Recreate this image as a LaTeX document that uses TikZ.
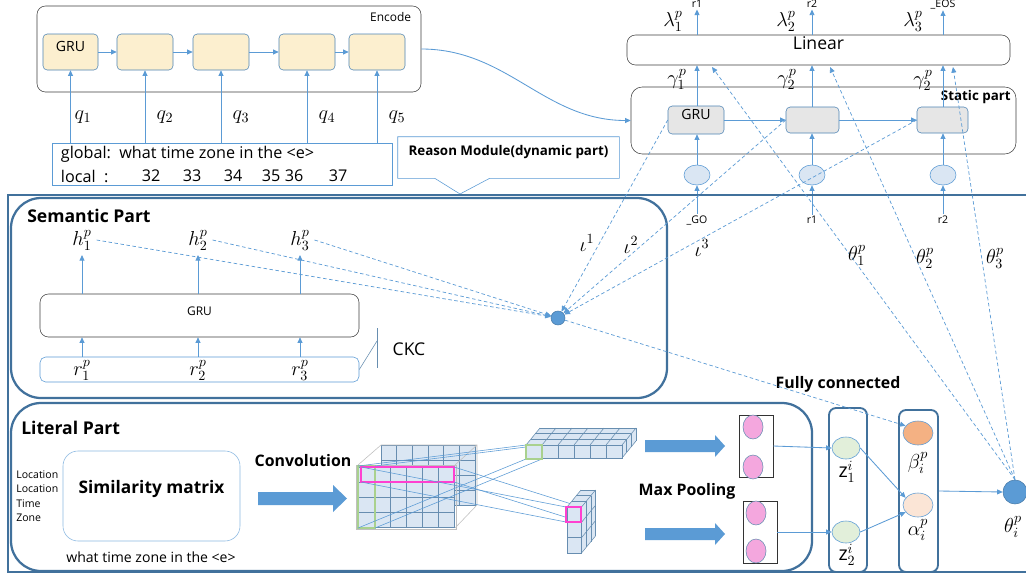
\documentclass[tikz,border=0pt]{standalone}
\usepackage{fontspec}
\setmainfont{Open Sans}
\usetikzlibrary{arrows.meta,positioning,shapes.geometric,fit,calc}
\definecolor{frameblue}{HTML}{41719C}
\definecolor{lineblue}{HTML}{5B9BD5}
\definecolor{cellyel}{HTML}{FCEFCF}
\definecolor{cellgray}{HTML}{E6E6E6}
\definecolor{ovalblue}{HTML}{DAE6F3}
\definecolor{zgreen}{HTML}{E2EFDA}
\definecolor{bpeach}{HTML}{F4B183}
\definecolor{apeach}{HTML}{FBE5D6}
\definecolor{pinkov}{HTML}{F4A7DE}
\definecolor{gridfill}{HTML}{DAE6F3}
\definecolor{selgreen}{HTML}{A9D18E}
\definecolor{selpink}{HTML}{FF40D0}

\begin{document}
\begin{tikzpicture}[x=0.025cm,y=-0.025cm,
  fa/.style={font=\fontsize{7.5}{10.3}\selectfont},
  fb/.style={font=\fontsize{8.5}{10}\selectfont},
  fc/.style={font=\fontsize{10}{12}\selectfont},
  fd/.style={font=\fontsize{11.5}{14}\selectfont},
  fm/.style={font=\fontsize{14}{16}\selectfont},
  hd/.style={font=\fontsize{12.5}{14}\selectfont\bfseries},
  tag/.style={font=\fontsize{9.5}{12}\selectfont\bfseries},
  stage/.style={font=\fontsize{11.3}{13}\selectfont\bfseries},
  rbx/.style={draw=black!75,rounded corners=6pt,inner sep=0pt},
  ecell/.style={draw=lineblue!85!black,fill=cellyel,rounded corners=3pt,inner sep=0pt,fc},
  dcell/.style={draw=lineblue!85!black,fill=cellgray,rounded corners=3pt,inner sep=0pt,fc},
  oval/.style={ellipse,draw=lineblue,fill=ovalblue,minimum width=0.65cm,minimum height=0.5cm,inner sep=0pt},
  part/.style={draw=frameblue,line width=1.6pt,rounded corners=0.75cm,inner sep=0pt},
  col/.style={draw=frameblue,line width=1.3pt,rounded corners=5pt,inner sep=0pt},
  pool/.style={ellipse,draw=lineblue!60!gray,fill=pinkov,minimum width=0.5cm,minimum height=0.6cm,inner sep=0pt},
  ar/.style={-{Triangle[length=4pt,width=3.5pt]},lineblue,line width=0.6pt},
  da/.style={-{Triangle[length=4pt,width=3.5pt]},lineblue,line width=0.5pt,dash pattern=on 2.5pt off 1.8pt},
  dot/.style={circle,fill=lineblue,draw=lineblue!80!black,inner sep=0pt},
  cube/.style={fill=gridfill,draw=frameblue!80,line width=0.4pt}]
  \path[use as bounding box,fill=white] (0,0) rectangle (1026,579);
  % encoder
  \node[rbx,fit={(37,6)(421,92)}] (enc) {};
  \node[fb,anchor=north east] (enclab) at (416,7) {Encode};
  \node[ecell,fit={(43,34)(98,70)}] (e1) {GRU};
  \node[ecell,fit={(117,34)(173,70)}] (e2) {};
  \node[ecell,fit={(193,34)(249,70)}] (e3) {};
  \node[ecell,fit={(279,34)(335,70)}] (e4) {};
  \node[ecell,fit={(349,34)(405,70)}] (e5) {};
  \foreach \a/\b in {e1/e2,e2/e3,e3/e4,e4/e5} \draw[ar] (\a) -- (\b);
  \node[draw=lineblue,inner sep=0pt,fit={(52,143)(392,185)}] (qry) {};
  \node[fd,anchor=west] (glob) at (56,154) {global:\ \ what time zone in the <e>};
  \node[fd,anchor=west] (loc) at (56,176) {local\ \ :};
  \foreach \n/\x in {32/151,33/192,34/233,35/271,36/294,37/338} \node[fd] (n\n) at (\x,176) {\n};
  \foreach \i/\x in {1/83,2/165,3/241,4/327,5/397} \node[fm] (q\i) at (\x,117) {$q_\i$};
  \foreach \i in {1,...,5} \draw[ar] (qry.north -| e\i) -- (e\i.south);
  % reason module tag
  \node[tag,inner sep=0pt,fit={(398,137)(619,178)}] (rsn) {Reason Module(dynamic part)};
  \draw[lineblue] (rsn.north west) -- (rsn.north east) -- (rsn.south east) -- ($(rsn.south west)+(92,0)$) -- (460,194) -- ($(rsn.south west)+(37,0)$) -- (rsn.south west) -- cycle;
  % decoder
  \node[rbx,fit={(627,35)(1010,65)},font=\fontsize{12.5}{14}\selectfont] (lin) {Linear};
  \node[rbx,rounded corners=8pt,fit={(631,87)(1016,154)}] (stat) {};
  \node[tag,anchor=north east,inner sep=0pt] (statlab) at (1011,90) {Static part};
  \node[dcell,fit={(668,106)(724,134)}] (d1) {GRU};
  \node[dcell,fit={(786,107)(839,133)}] (d2) {};
  \node[dcell,fit={(917,107)(968,133)}] (d3) {};
  \draw[ar] (d1) -- (d2); \draw[ar] (d2) -- (d3);
  \foreach \i/\x in {1/697,2/812,3/943} \node[oval] (o\i) at (\x,175) {};
  \foreach \i/\t in {1/r1,2/r2,3/\_EOS} \node[fa,inner sep=1pt] (t\i) at (o\i |- 0,4) {\t};
  \foreach \i/\t in {1/\_GO,2/r1,3/r2} \node[fa,inner sep=1pt] (s\i) at (o\i |- 0,220) {\t};
  \foreach \i in {1,2,3} {
    \draw[ar] (s\i) -- (o\i);
    \draw[ar] (o\i.north) -- (d\i.south -| o\i);
    \draw[ar] (d\i.north -| o\i) -- (lin.south -| o\i);
    \draw[ar] (lin.north -| o\i) -- (t\i);
  }
  \node[fm] (lam1) at (673,21) {$\lambda_1^p$};
  \node[fm] (lam2) at (786,21) {$\lambda_2^p$};
  \node[fm] (lam3) at (913,21) {$\lambda_3^p$};
  \node[fm] (gam1) at (677,79) {$\gamma_1^p$};
  \node[fm] (gam2) at (787,79) {$\gamma_2^p$};
  \node[fm] (gam3) at (923,80) {$\gamma_2^p$};
  \draw[ar] (enc.east) to[out=0,in=180] (stat.west);
  % reason module frame
  \draw[frameblue,line width=1.6pt] (1030,195) -| (8,572) -- (1030,572);
  % semantic part
  \node[part,fit={(11,198)(667,398)}] (sem) {};
  \node[hd,anchor=west,inner sep=0pt] (semlab) at (27,216) {Semantic Part};
  \node[rbx,fit={(40,294)(359,337)},fb] (sgru) {GRU};
  \node[draw=lineblue,rounded corners=4pt,inner sep=0pt,fit={(40,357)(359,382)}] (rin) {};
  \foreach \i/\x in {1/82,2/198,3/300} {
    \node[fm] (r\i) at (\x,370) {$r_\i^p$};
    \node[fm] (h\i) at (\x,240) {$h_\i^p$};
    \draw[ar] (rin.north -| r\i) -- (sgru.south -| r\i);
    \draw[ar] (sgru.north -| h\i) -- (h\i);
  }
  \coordinate (ck1) at (377,328); \coordinate (ck2) at (377,368); \coordinate (ck3) at (377,341);
  \draw[frameblue!80] (ck1) -- (ck2);
  \draw[frameblue!80] (rin.east) -- (ck3);
  \node[font=\fontsize{12.5}{14}\selectfont] (ckc) at (409,349) {CKC};
  \node[dot,minimum size=0.35cm] (att) at (558,318) {};
  \foreach \i in {1,2,3} {
    \draw[da] (h\i.east) -- (att);
    \draw[da] (d\i.west) -- (att);
  }
  \node[fm] (io1) at (587,243) {$\iota^1$};
  \node[fm] (io2) at (631,245) {$\iota^2$};
  \node[fm] (io3) at (702,248) {$\iota^3$};
  % theta links
  \node[dot,minimum size=0.6cm] (th) at (1015,492) {};
  \foreach \i/\x in {1/712,2/830,3/953} {
    \coordinate (k\i) at (\x,67);
    \draw[da] (th.north) -- (k\i);
  }
  \node[fm] (tl1) at (857,255) {$\theta_1^p$};
  \node[fm] (tl2) at (925,258) {$\theta_2^p$};
  \node[fm] (tl3) at (995,258) {$\theta_3^p$};
  % literal part
  \node[part,fit={(11,403)(812,571)}] (lit) {};
  \node[hd,anchor=west,inner sep=0pt] (litlab) at (21,428) {Literal Part};
  \node[fa,anchor=west,align=left,inner sep=0pt] (rows) at (16,496) {Location\\Location\\Time\\Zone};
  \node[draw=lineblue!70,rounded corners=0.375cm,inner sep=0pt,fit={(63,451)(240,541)},font=\fontsize{12.3}{14}\selectfont\bfseries] (sim) {Similarity matrix};
  \node[fc] (simcap) at (151,557) {what time zone in the <e>};
  \node[stage] (convlab) at (303,461) {Convolution};
  \fill[lineblue] (258,492) -- (333,492) -- (333,485) -- (347,498.5) -- (333,512) -- (333,505) -- (258,505) -- cycle;
  % conv tensor
  \foreach \i in {0,...,5} \foreach \j in {0,...,3}
    \draw[cube] (381+\i*15.67,445+\j*15) rectangle ++(15.67,15);
  \draw[black!25] (358,465) -- (381,445) -- (477,445) -- (477,505) -- (455,528) (455,465) -- (477,445);
  \foreach \i in {0,...,5} \foreach \j in {0,...,3}
    \draw[cube] (358+\i*16,467+\j*15) rectangle ++(16,15);
  \draw[black!25] (356,465) rectangle (456,529);
  \draw[selgreen,line width=1.4pt] (358,466) rectangle (375,528);
  \draw[selpink,line width=1.6pt] (361,467) rectangle (454,482);
  \foreach \a/\b in {358/526,375/542} {
    \draw[lineblue,line width=0.4pt] (\a,466) -- (\b,445);
    \draw[lineblue,line width=0.4pt] (\a,528) -- (\b,459);
  }
  \foreach \a/\b in {361/566,454/581} {
    \draw[lineblue,line width=0.4pt] (\a,467) -- (\b,507);
    \draw[lineblue,line width=0.4pt] (\a,482) -- (\b,522);
  }
  % upper map
  \fill[gridfill] (526,445) -- (540,428) -- (636,428) -- (636,441) -- (622,458) -- (526,458) -- cycle;
  \foreach \k in {0,...,3} {
    \draw[frameblue!80,line width=0.4pt] (526+\k*4.67,445-\k*5.67) -- ++(96,0);
    \draw[frameblue!80,line width=0.4pt] (622+\k*4.67,445-\k*5.67) -- ++(0,13);
  }
  \foreach \i in {0,...,6} \draw[frameblue!80,line width=0.4pt] (526+\i*16,445) -- ++(14,-17);
  \draw[frameblue!80,line width=0.4pt] (622,458) -- ++(14,-17);
  \foreach \i in {0,...,5} \draw[cube] (526+\i*16,445) rectangle ++(16,13);
  \draw[selgreen,line width=1.3pt] (526,445) rectangle (542,459);
  % lower map
  \fill[gridfill] (567,507) -- (581,490) -- (595,490) -- (595,536) -- (581,553) -- (567,553) -- cycle;
  \foreach \k in {0,...,3} {
    \draw[frameblue!80,line width=0.4pt] (567+\k*4.67,507-\k*5.67) -- ++(14.5,0);
    \draw[frameblue!80,line width=0.4pt] (581.5+\k*4.67,507-\k*5.67) -- ++(0,46);
  }
  \foreach \j in {0,...,3} \draw[frameblue!80,line width=0.4pt] (581.5,507+\j*15.33) -- ++(14,-17);
  \draw[frameblue!80,line width=0.4pt] (567,507) -- ++(14,-17);
  \foreach \j in {0,...,2} \draw[cube] (567,507+\j*15.33) rectangle ++(14.5,15.33);
  \draw[selpink,line width=1.5pt] (566,507) rectangle (581,522);
  % max pooling
  \fill[lineblue] (645,440) -- (715,440) -- (715,435) -- (725,446) -- (715,457) -- (715,452) -- (645,452) -- cycle;
  \fill[lineblue] (645,528) -- (715,528) -- (715,523) -- (725,534) -- (715,545) -- (715,540) -- (645,540) -- cycle;
  \node[stage] (mplab) at (687,491) {Max Pooling};
  \node[draw=black!80,inner sep=0pt,fit={(739,415)(773,477)}] (pu) {};
  \node[draw=black!80,inner sep=0pt,fit={(743,501)(777,563)}] (pl) {};
  \foreach \n/\x/\y in {pu1/753/427,pu2/753/467,pl1/756/513,pl2/756/551} \node[pool] (\n) at (\x,\y) {};
  % fully connected
  \node[col,fit={(829,408)(867,572)}] (zc) {};
  \node[col,fit={(899,410)(938,572)}] (ac) {};
  \node[ellipse,draw=lineblue,fill=zgreen,minimum width=0.7cm,minimum height=0.55cm,inner sep=0pt] (z1) at (846,448) {};
  \node[ellipse,draw=lineblue,fill=zgreen,minimum width=0.7cm,minimum height=0.55cm,inner sep=0pt] (z2) at (846,532) {};
  \node[ellipse,draw=lineblue,fill=bpeach,minimum width=0.75cm,minimum height=0.6cm,inner sep=0pt] (bt) at (918,433) {};
  \node[ellipse,draw=lineblue,fill=apeach,minimum width=0.75cm,minimum height=0.6cm,inner sep=0pt] (al) at (918,505) {};
  \node[fm] (z1l) at (847,472) {$\mathrm{z}_1^i$};
  \node[fm] (z2l) at (847,555) {$\mathrm{z}_2^i$};
  \node[fm] (btl) at (918,463) {$\beta_i^p$};
  \node[fm] (all) at (918,530) {$\alpha_i^p$};
  \node[fm] (thl) at (1013,527) {$\theta_i^p$};
  \node[stage] (fclab) at (838,384) {Fully connected};
  \draw[ar] (pu.east) -- (z1.west);
  \draw[ar] (pl.east) -- (z2.west);
  \draw[ar] (z1.east) -- (al.150);
  \draw[ar] (z2.east) -- (al.210);
  \draw[ar] (ac.east) -- (th.west);
  \draw[da] (att) -- (bt.150);
\end{tikzpicture}
\end{document}
